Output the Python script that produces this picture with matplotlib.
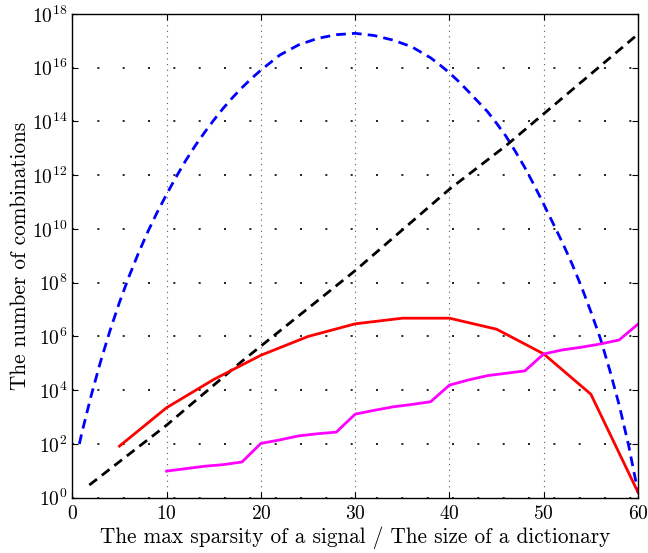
import numpy as np
import matplotlib
matplotlib.use("Agg")
import matplotlib.pyplot as plt

plt.rcParams['font.family'] = 'serif'
plt.rcParams['font.serif'] = ['cmr10', 'DejaVu Serif']
plt.rcParams['mathtext.fontset'] = 'cm'
plt.rcParams['axes.unicode_minus'] = False
plt.rcParams['axes.formatter.use_mathtext'] = True

# values, stored as log10 of the y value
blue_x = [0.75, 1, 2, 3, 4, 5, 6, 7, 8, 9, 10, 11, 12, 13, 14, 15, 16, 17, 18, 19, 20,
          22, 24, 26, 28, 30, 32, 34, 36, 38, 39, 40, 41, 42, 43, 44, 45, 46, 47, 48,
          49, 50, 51, 52, 53, 54, 55, 56, 57, 58, 59, 60]
blue_log = [2.0, 2.4, 3.8, 5.07, 6.22, 7.27, 8.22, 9.09, 9.89, 10.62, 11.29, 11.93, 12.53,
            13.08, 13.58, 14.05, 14.49, 14.89, 15.26, 15.6, 15.91, 16.47, 16.85, 17.09,
            17.23, 17.28, 17.2, 17.03, 16.78, 16.37, 16.1, 15.81, 15.48, 15.12, 14.75,
            14.38, 13.93, 13.45, 12.88, 12.28, 11.62, 10.92, 10.2, 9.48, 8.7, 7.85, 6.92,
            5.93, 4.75, 3.45, 1.95, 0.2]

black_x = [1.8, 10, 18, 30, 40, 46, 60]
black_log = [0.47, 2.7, 5.08, 8.45, 11.48, 13.1, 17.25]

red_x = [5, 10, 15, 20, 25, 30, 35, 40, 45, 50, 55, 60]
red_log = [1.92, 3.35, 4.4, 5.3, 6.0, 6.47, 6.68, 6.68, 6.27, 5.35, 3.85, 0.2]

mag_x = [10, 12, 14, 16, 18, 20, 22, 24, 26, 28, 30, 32, 34, 36, 38, 40, 42, 44, 46, 48,
         50, 52, 54, 56, 58, 60]
mag_log = [0.99, 1.08, 1.17, 1.23, 1.33, 2.02, 2.15, 2.3, 2.38, 2.44, 3.11, 3.25, 3.38,
           3.47, 3.57, 4.19, 4.38, 4.54, 4.63, 4.72, 5.35, 5.5, 5.6, 5.72, 5.87, 6.46]

fig = plt.figure(figsize=(6.48, 5.53), dpi=100)
ax = fig.add_axes([0.1116, 0.1, 0.873, 0.8747])

ax.plot(blue_x, 10 ** np.array(blue_log), color='b', lw=2, linestyle=(0, (3.5, 2.2)))
ax.plot(black_x, 10 ** np.array(black_log), color='k', lw=2, linestyle=(0, (3.5, 2.2)))
ax.plot(red_x, 10 ** np.array(red_log), color='r', lw=2)
ax.plot(mag_x, 10 ** np.array(mag_log), color='magenta', lw=2)

ax.set_yscale('log')
ax.set_xlim(0, 60)
ax.set_ylim(1, 1e18)
ax.set_xticks(range(0, 61, 10))
ax.set_yticks([10.0 ** k for k in range(0, 19, 2)])
ax.yaxis.set_minor_locator(matplotlib.ticker.NullLocator())

ax.grid(axis='x', linestyle=(0, (1, 4)), color='0.35', lw=0.8)
ax.grid(axis='y', linestyle=(0, (1.2, 14)), color='k', lw=1.2)
ax.tick_params(direction='in', top=True, right=True, length=4, width=0.8, labelsize=14)
ax.tick_params(axis='x', pad=5)
for s in ax.spines.values():
    s.set_linewidth(1)

ax.set_xlabel('The max sparsity of a signal / The size of a dictionary', fontsize=15.3, labelpad=3)
ax.set_ylabel('The number of combinations', fontsize=15.3, labelpad=1)

plt.savefig('out.png', dpi=100)
